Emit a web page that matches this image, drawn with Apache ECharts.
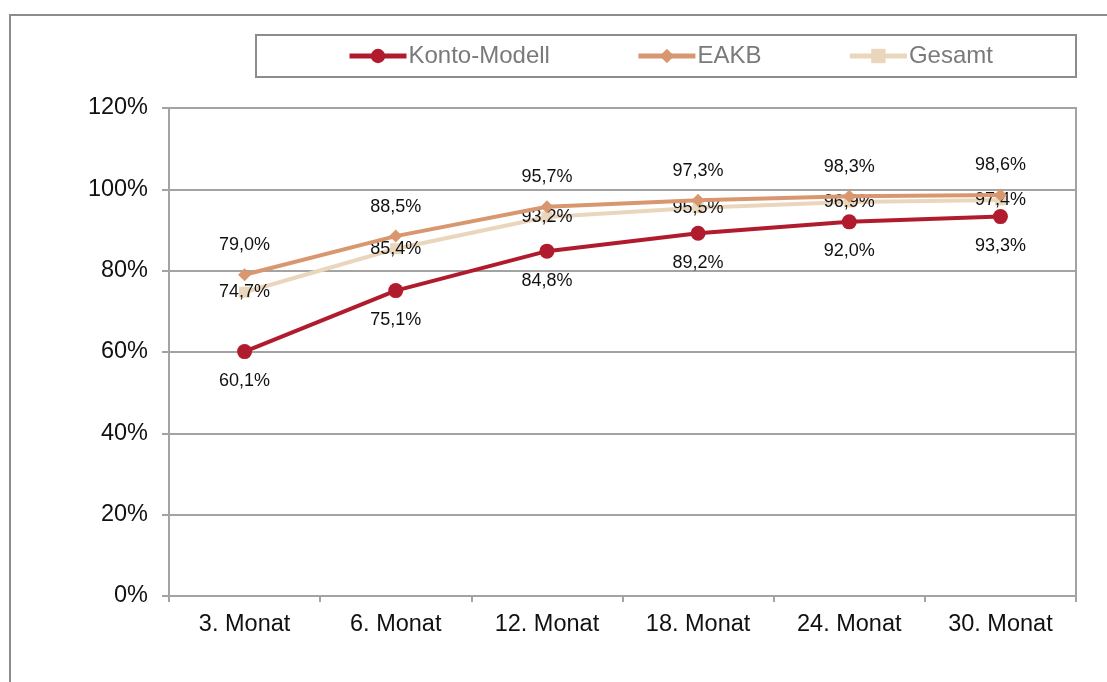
<!DOCTYPE html>
<html>
<head>
<meta charset="utf-8">
<script src="https://cdn.jsdelivr.net/npm/echarts@6/dist/echarts.min.js"></script>
<style>
  html, body { margin: 0; padding: 0; background: #fff; }
  #chart { width: 1107px; height: 682px; }
</style>
</head>
<body>
<div id="chart"></div>
<script>
// Zeitpunkte der Auswertung
const categories = ['3. Monat', '6. Monat', '12. Monat', '18. Monat', '24. Monat', '30. Monat'];
// Werte in Prozent
const kontoModell = [60.1, 75.1, 84.8, 89.2, 92.0, 93.3];
const eakb = [79.0, 88.5, 95.7, 97.3, 98.3, 98.6];
const gesamt = [74.7, 85.4, 93.2, 95.5, 96.9, 97.4];
// Achsenbereich der y-Achse
const yMin = 0, yMax = 120, yStep = 20;

const FONT = '"Liberation Sans", Arial, sans-serif';
const GRID_GRAY = '#a3a3a3';

const fmt = v => v.toFixed(1).replace('.', ',') + '%';

const chart = echarts.init(document.getElementById('chart'), null, { renderer: 'canvas' });

function labelCfg(position, distance) {
  return {
    show: true,
    position: position,
    distance: distance,
    color: '#111',
    fontFamily: FONT,
    fontSize: 18,
    formatter: p => fmt(p.value)
  };
}

chart.setOption({
  animation: false,
  backgroundColor: '#fff',
  textStyle: { fontFamily: FONT },
  graphic: [
    {
      type: 'rect', silent: true, z: -1,
      shape: { x: 10, y: 15, width: 1120, height: 700 },
      style: { fill: 'none', stroke: '#8c8c8c', lineWidth: 2 }
    },
    {
      type: 'rect', silent: true, z: -1,
      shape: { x: 256, y: 35, width: 820, height: 42 },
      style: { fill: '#fff', stroke: '#8c8c8c', lineWidth: 2 }
    }
  ],
  legend: {
    left: 347,
    top: 44,
    itemWidth: 57,
    itemHeight: 18,
    itemGap: 86,
    padding: 0,
    lineStyle: { width: 5 },
    textStyle: { color: '#7a7a7a', fontSize: 24, fontFamily: FONT, padding: [0, 0, 0, -3] },
    data: ['Konto-Modell', 'EAKB', 'Gesamt']
  },
  grid: {
    left: 169, right: 31, top: 108, bottom: 86,
    show: true, borderColor: GRID_GRAY, borderWidth: 2, backgroundColor: 'transparent'
  },
  xAxis: {
    type: 'category',
    data: categories,
    boundaryGap: true,
    axisLine: { lineStyle: { color: GRID_GRAY, width: 2 } },
    axisTick: { show: true, inside: false, length: 6, alignWithLabel: false, lineStyle: { color: GRID_GRAY, width: 2 } },
    axisLabel: { color: '#111', fontSize: 23.5, fontFamily: FONT, margin: 17 },
    splitLine: { show: false }
  },
  yAxis: {
    type: 'value',
    min: yMin, max: yMax, interval: yStep,
    axisLine: { show: true, lineStyle: { color: GRID_GRAY, width: 2 } },
    axisTick: { show: true, length: 7, lineStyle: { color: GRID_GRAY, width: 2 } },
    axisLabel: { color: '#111', fontSize: 23.5, fontFamily: FONT, margin: 21, formatter: v => v + '%' },
    splitLine: { show: true, lineStyle: { color: GRID_GRAY, width: 2 } }
  },
  series: [
    {
      name: 'Gesamt', type: 'line', data: gesamt, z: 2,
      symbol: 'rect', symbolSize: 11,
      lineStyle: { color: '#ead6bc', width: 4 },
      itemStyle: { color: '#ead6bc' },
      label: labelCfg('inside', 0)
    },
    {
      name: 'EAKB', type: 'line', data: eakb, z: 3,
      symbol: 'diamond', symbolSize: 13,
      lineStyle: { color: '#d9976f', width: 4 },
      itemStyle: { color: '#d9976f' },
      label: labelCfg('top', 14)
    },
    {
      name: 'Konto-Modell', type: 'line', data: kontoModell, z: 4,
      symbol: 'circle', symbolSize: 15,
      lineStyle: { color: '#b01c2e', width: 4 },
      itemStyle: { color: '#b01c2e' },
      label: labelCfg('bottom', 13)
    }
  ]
});
</script>
</body>
</html>
